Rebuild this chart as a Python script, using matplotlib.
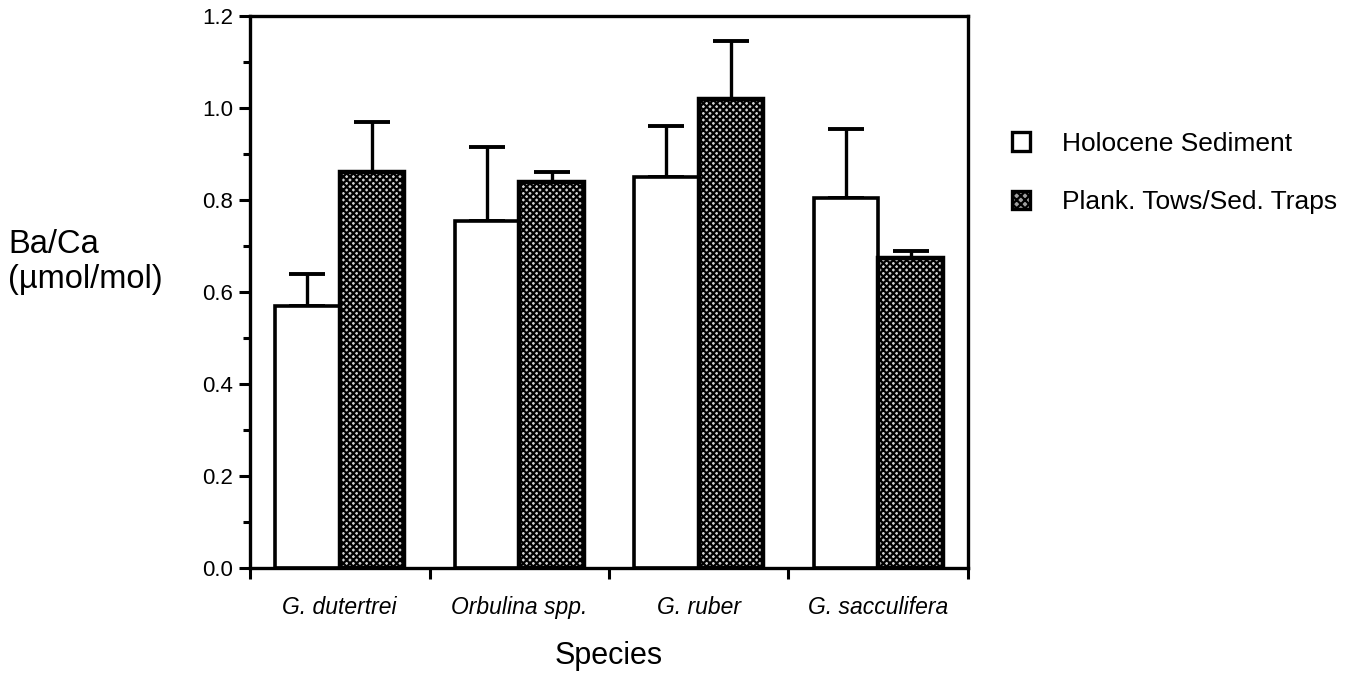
import numpy as np
import matplotlib
matplotlib.use("Agg")
import matplotlib.pyplot as plt
from matplotlib.patches import Patch

plt.rcParams['font.family'] = ['Liberation Sans', 'DejaVu Sans']
plt.rcParams['hatch.linewidth'] = 1.6

# Values
species = ["G. dutertrei", "Orbulina spp.", "G. ruber", "G. sacculifera"]
holocene = [0.57, 0.755, 0.85, 0.805]
holocene_err = [0.07, 0.16, 0.11, 0.15]
tows = [0.86, 0.84, 1.02, 0.675]
tows_err = [0.11, 0.02, 0.125, 0.015]

fig = plt.figure(figsize=(13.61, 6.77), dpi=100)
ax = fig.add_axes([250 / 1361, 1 - 568 / 677, 718 / 1361, 552 / 677])

x = np.arange(len(species)) + 0.5
w = 0.36

ax.bar(x - w / 2, holocene, w, facecolor="white", edgecolor="black",
       linewidth=2.6, zorder=2)
ax.bar(x + w / 2, tows, w, facecolor="#d0d0d0", edgecolor="black",
       hatch="xxxxx", linewidth=3.2, zorder=2)
ax.errorbar(x - w / 2, holocene, yerr=[np.zeros(4), holocene_err], fmt="none",
            ecolor="black", elinewidth=2.4, capsize=13, capthick=2.8, zorder=1)
ax.errorbar(x + w / 2, tows, yerr=[np.zeros(4), tows_err], fmt="none",
            ecolor="black", elinewidth=2.4, capsize=13, capthick=2.8, zorder=1)

ax.set_xlim(0, 4)
ax.set_ylim(0, 1.2)
for s in ax.spines.values():
    s.set_linewidth(2.4)

ax.set_yticks(np.arange(0, 1.21, 0.2))
ax.set_yticklabels([f"{v:.1f}" for v in np.arange(0, 1.21, 0.2)], fontsize=16)
ax.set_yticks(np.arange(0.1, 1.2, 0.2), minor=True)
ax.tick_params(axis="y", which="major", direction="out", length=8, width=2.2, pad=4)
ax.tick_params(axis="y", which="minor", direction="out", length=5, width=2.2)

ax.set_xticks(np.arange(0, 5))
ax.set_xticklabels([])
ax.set_xticks(x, minor=True)
ax.set_xticklabels(species, minor=True, fontsize=16.5, style="italic")
ax.tick_params(axis="x", which="major", direction="out", length=8, width=2.2)
ax.tick_params(axis="x", which="minor", length=0, pad=20)

ax.set_xlabel("Species", fontsize=22, labelpad=16)
fig.text(8 / 1361, 1 - 262 / 677, "Ba/Ca\n(\u00b5mol/mol)", fontsize=23.5,
         ha="left", va="center", linespacing=1.2)

handles = [Patch(facecolor="white", edgecolor="black", linewidth=2.4),
           Patch(facecolor="#a0a0a0", edgecolor="black", hatch="xxxx", linewidth=2.4)]
fig.legend(handles, ["Holocene Sediment", "Plank. Tows/Sed. Traps"],
           loc="upper left", bbox_to_anchor=(988 / 1361, 1 - 108 / 677),
           frameon=False, fontsize=19, handlelength=0.7, handleheight=0.7,
           handletextpad=1.2, labelspacing=1.3)

fig.savefig("out.png", dpi=100)
